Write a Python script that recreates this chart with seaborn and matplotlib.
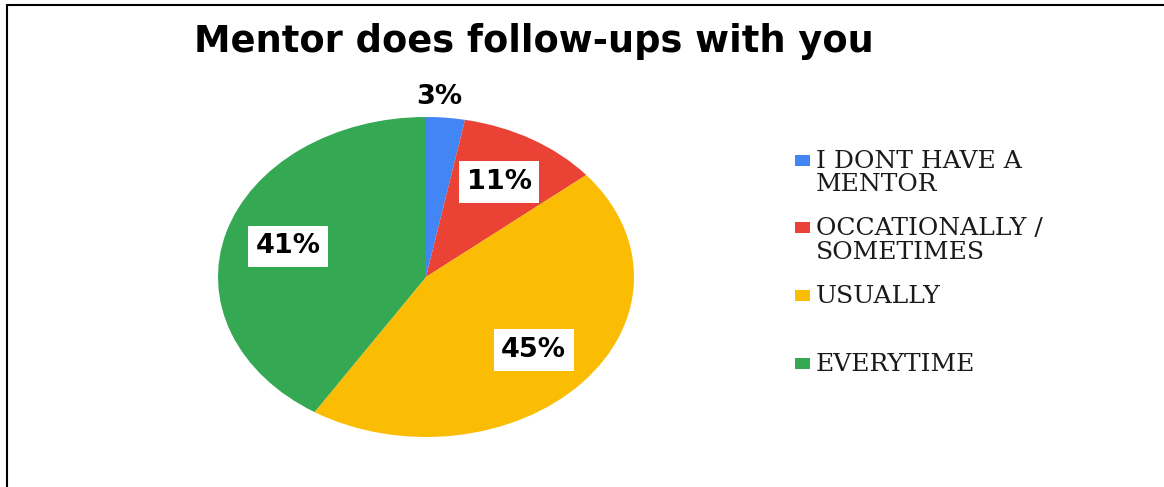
import matplotlib
matplotlib.use("Agg")
import matplotlib.pyplot as plt
import seaborn as sns
import numpy as np
from matplotlib.lines import Line2D
from matplotlib.patches import Rectangle

# Survey responses
categories = ["I DONT HAVE A\nMENTOR", "OCCATIONALLY /\nSOMETIMES", "USUALLY", "EVERYTIME"]
shares = [3, 11, 45, 41]
colors = ["#4285F4", "#EA4335", "#FBBC04", "#34A853"]
title = "Mentor does follow-ups with you"

sns.set_theme(style="white")
plt.rcParams["font.family"] = ["DejaVu Sans"]

W, H = 1164, 487
fig = plt.figure(figsize=(W / 100, H / 100), dpi=100)
fig.patch.set_facecolor("white")

# Pie axes: stretched horizontally into an ellipse
cx, cy, rx, ry = 426, 277, 208, 160
ax = fig.add_axes([(cx - rx) / W, (H - cy - ry) / H, 2 * rx / W, 2 * ry / H])
wedges, texts, autotexts = ax.pie(
    shares, colors=colors, startangle=90, counterclock=False,
    autopct=lambda p: f"{p:.0f}%", pctdistance=0.69,
    wedgeprops=dict(linewidth=0),
    textprops=dict(fontsize=19.5, fontweight="bold", color="black"),
)
ax.set_aspect("auto")
ax.set_xlim(-1, 1)
ax.set_ylim(-1, 1)
ax.axis("off")

for i, (w, t) in enumerate(zip(wedges, autotexts)):
    if shares[i] < 5:
        ang = np.deg2rad((w.theta1 + w.theta2) / 2)
        t.set_position((0.7 * np.cos(ang), 1.13 * np.sin(ang)))
    else:
        t.set_bbox(dict(boxstyle="square,pad=0.28", facecolor="white", edgecolor="none"))

fig.text(534 / W, 1 - 42 / H, title, ha="center", va="center",
         fontsize=26.5, fontweight="bold", color="black")

# Legend entries
for i, (lab, col) in enumerate(zip(categories, colors)):
    y = 160 + i * 67.7
    fig.add_artist(Rectangle((795 / W, 1 - (y + 5.5) / H), 15 / W, 11 / H,
                             transform=fig.transFigure, facecolor=col, edgecolor="none"))
    fig.text(816 / W, 1 - (y - 10.5) / H, lab, ha="left", va="top",
             fontsize=18, family=["DejaVu Serif"],
             color="#1a1a1a", linespacing=1.02)

# Outer frame (top and left edges)
lw = 1.5
fig.add_artist(Line2D([6.5 / W, 1], [1 - 4.5 / H, 1 - 4.5 / H], transform=fig.transFigure,
                      color="black", linewidth=lw))
fig.add_artist(Line2D([6.5 / W, 6.5 / W], [0, 1 - 4.5 / H], transform=fig.transFigure,
                      color="black", linewidth=lw))

fig.savefig("out.png", dpi=100, facecolor="white")
